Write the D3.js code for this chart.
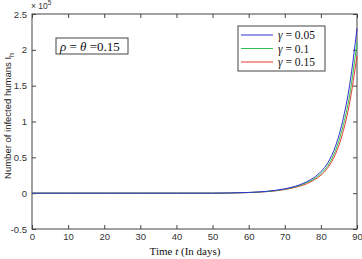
<!DOCTYPE html>
<html>
<head>
<meta charset="utf-8">
<script src="https://cdn.jsdelivr.net/npm/d3@7"></script>
<style>
  body { margin: 0; background: #fff; }
  svg { display: block; }
  .tick text { font-family: "Liberation Sans", Arial, sans-serif; font-size: 9.5px; fill: #333; }
</style>
</head>
<body>
<svg id="chart" width="362" height="259"></svg>
<script>
// time (days) and infected humans (x 10^5)
var days   = [0, 10, 20, 30, 40, 50, 55, 60, 65, 70, 72, 74, 76, 78, 80, 82, 84, 86, 88, 90];
var gamma005 = [0, 0, 0, 0, 0, 0, 0.003, 0.01, 0.026, 0.06, 0.083, 0.115, 0.158, 0.215, 0.30, 0.43, 0.65, 1.00, 1.52, 2.30];
var gamma01  = [0, 0, 0, 0, 0, 0, 0.003, 0.009, 0.023, 0.055, 0.077, 0.105, 0.145, 0.195, 0.272, 0.39, 0.59, 0.91, 1.38, 2.10];
var gamma015 = [0, 0, 0, 0, 0, 0, 0.002, 0.008, 0.021, 0.05, 0.07, 0.095, 0.13, 0.18, 0.25, 0.36, 0.54, 0.83, 1.27, 1.92];
var legendLabels = ["0.05", "0.1", "0.15"];
var xTicks = [0, 10, 20, 30, 40, 50, 60, 70, 80, 90];
var yTicks = [-0.5, 0, 0.5, 1, 1.5, 2, 2.5];

var series = [
  { label: legendLabels[0], values: gamma005, color: "#3030d0" },
  { label: legendLabels[1], values: gamma01,  color: "#30c050" },
  { label: legendLabels[2], values: gamma015, color: "#e83a30" }
];

var margin = { top: 14, right: 5, bottom: 30, left: 32 }
  , width = 362 - margin.left - margin.right
  , height = 259 - margin.top - margin.bottom
;

var svg = d3.select("#chart");
var g = svg.append("g")
    .attr("transform", "translate(" + margin.left + "," + margin.top + ")");

var x = d3.scaleLinear().domain([0, 90]).range([0, width]);
var y = d3.scaleLinear().domain([-0.5, 2.5]).range([height, 0]);

// plot frame
g.append("rect")
    .attr("width", width).attr("height", height)
    .attr("fill", "none").attr("stroke", "#444").attr("stroke-width", 1);

// axes, ticks pointing inward on all four sides
function styleAxis(sel) {
  sel.select(".domain").remove();
  sel.selectAll(".tick line").attr("stroke", "#444");
}
g.append("g")
    .attr("transform", "translate(0," + height + ")")
    .call(d3.axisBottom(x).tickValues(xTicks).tickSize(-4).tickPadding(4).tickFormat(d3.format("d")))
    .call(styleAxis);
g.append("g")
    .call(d3.axisTop(x).tickValues(xTicks).tickSize(-4).tickFormat(""))
    .call(styleAxis);
g.append("g")
    .call(d3.axisLeft(y).tickValues(yTicks).tickSize(-4).tickPadding(5).tickFormat(function(d) { return String(d); }))
    .call(styleAxis);
g.append("g")
    .attr("transform", "translate(" + width + ",0)")
    .call(d3.axisRight(y).tickValues(yTicks).tickSize(-4).tickFormat(""))
    .call(styleAxis);

// curves (blue drawn last so it sits on top)
var line = d3.line()
    .x(function(d, i) { return x(days[i]); })
    .y(function(d) { return y(d); })
    .curve(d3.curveMonotoneX);

g.selectAll(".curve")
    .data(series.slice().reverse())
  .enter().append("path")
    .attr("class", "curve")
    .attr("d", function(d) { return line(d.values); })
    .attr("fill", "none")
    .attr("stroke", function(d) { return d.color; })
    .attr("stroke-width", 1);

// exponent label
var expo = svg.append("text")
    .attr("x", margin.left - 1).attr("y", 9)
    .attr("font-family", "Liberation Sans, Arial, sans-serif")
    .attr("font-size", 8.5).attr("fill", "#333");
expo.append("tspan").text("× 10");
expo.append("tspan").attr("dy", -4).attr("font-size", 6.5).text("5");

// legend
var leg = svg.append("g").attr("transform", "translate(238,26)");
leg.append("rect")
    .attr("width", 87).attr("height", 45)
    .attr("fill", "#fff").attr("stroke", "#444");
var items = leg.selectAll(".item")
    .data(series)
  .enter().append("g")
    .attr("transform", function(d, i) { return "translate(0," + (9 + i * 13.5) + ")"; });
items.append("line")
    .attr("x1", 3).attr("x2", 35)
    .attr("stroke", function(d) { return d.color; });
var lt = items.append("text")
    .attr("x", 40).attr("y", 4)
    .attr("font-family", "Liberation Serif, Times New Roman, serif")
    .attr("font-size", 11.5).attr("fill", "#111");
lt.append("tspan").attr("font-style", "italic").text("γ");
lt.append("tspan").text(function(d) { return " = " + d.label; });

// parameter annotation
var ann = svg.append("g").attr("transform", "translate(56,38)");
ann.append("rect")
    .attr("width", 72).attr("height", 16)
    .attr("fill", "#fff").attr("stroke", "#444");
var at = ann.append("text")
    .attr("x", 4).attr("y", 12.5)
    .attr("font-family", "Liberation Serif, Times New Roman, serif")
    .attr("font-size", 13).attr("fill", "#111");
at.append("tspan").attr("font-style", "italic").text("ρ");
at.append("tspan").text(" = ");
at.append("tspan").attr("font-style", "italic").text("θ");
at.append("tspan").text(" =0.15");

// axis titles
var xt = svg.append("text")
    .attr("x", 185).attr("y", 255)
    .attr("text-anchor", "middle")
    .attr("font-family", "Liberation Serif, Times New Roman, serif")
    .attr("font-size", 11).attr("fill", "#111");
xt.append("tspan").text("Time ");
xt.append("tspan").attr("font-style", "italic").text("t");
xt.append("tspan").text(" (In days)");

var yt = svg.append("text")
    .attr("transform", "translate(11,116) rotate(-90)")
    .attr("text-anchor", "middle")
    .attr("font-family", "Liberation Sans Narrow, Liberation Sans, Arial, sans-serif")
    .attr("font-size", 9.5).attr("fill", "#222");
yt.append("tspan").text("Number of infected humans I");
yt.append("tspan").attr("dy", 2.5).attr("font-size", 7).text("h");
</script>
</body>
</html>
